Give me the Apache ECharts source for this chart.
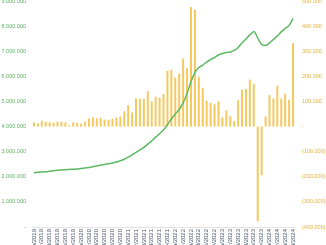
<!DOCTYPE html>
<html><head><meta charset="utf-8">
<script src="https://cdn.jsdelivr.net/npm/echarts@6/dist/echarts.min.js"></script>
<style>html,body{margin:0;padding:0;background:#fff}#c{width:326px;height:245px}</style>
</head><body><div id="c"></div>
<script>
const months = ['jan','fev','mar','abr','mai','jun','jul','ago','set','out','nov','dez'];
const startYear = 2019;
const nPoints = 67;
const categories = [];
for (let i = 0; i < nPoints; i++) categories.push(months[i % 12] + '/' + (startYear + Math.floor(i / 12)));

// Monthly change (bars, right axis)
const barValues = [16000,13000,23000,19000,17000,15000,20000,19000,17000,5000,17000,15000,
  11000,20000,32000,37000,33000,35000,27000,27000,31000,36000,40000,61000,
  85000,56000,113000,111000,111000,141000,100000,119000,115000,130000,222000,227000,
  195000,211000,271000,232000,476000,466000,198000,154000,103000,94000,88000,100000,
  36000,64000,41000,23000,105000,146000,150000,187000,171000,-377000,-194000,40000,
  125000,112000,163000,112000,131000,107000,332000];

// Cumulative total (line, left axis)
const lineValues = [2160000,2180000,2190000,2200000,2220000,2240000,2260000,2270000,2280000,2290000,2300000,2310000,
  2330000,2350000,2370000,2400000,2430000,2460000,2490000,2520000,2550000,2590000,2640000,2700000,
  2780000,2870000,2970000,3070000,3170000,3300000,3430000,3580000,3720000,3860000,4080000,4300000,
  4500000,4680000,4940000,5320000,5780000,6160000,6350000,6450000,6570000,6670000,6750000,6850000,
  6910000,6950000,6970000,7030000,7150000,7330000,7490000,7650000,7790000,7530000,7270000,7230000,
  7330000,7470000,7610000,7770000,7910000,8030000,8310000];

const leftTicks = {min: 0, max: 9000000, interval: 1000000};
const rightTicks = {min: -400000, max: 500000, interval: 100000};

function fmt(v) {
  if (v === 0) return '-';
  const s = Math.abs(v).toString().replace(/\B(?=(\d{3})+(?!\d))/g, '.');
  return v < 0 ? '(' + s + ')' : s;
}

const chart = echarts.init(document.getElementById('c'), null, {renderer: 'canvas'});
chart.setOption({
  animation: false,
  grid: {left: 32, right: 31, top: 1, bottom: 18, containLabel: false, outerBoundsMode: 'none'},
  xAxis: {
    type: 'category', data: categories,
    axisLine: {onZero: false, lineStyle: {color: '#e3e3e3', width: 1}},
    axisTick: {show: false},
    axisLabel: {rotate: 90, interval: 1, fontSize: 6, color: '#44546A', margin: 2, fontFamily: 'Liberation Sans'}
  },
  yAxis: [
    {type: 'value', position: 'left', min: leftTicks.min, max: leftTicks.max, interval: leftTicks.interval,
     splitLine: {show: false}, axisLine: {show: false}, axisTick: {show: false},
     axisLabel: {formatter: fmt, fontSize: 5.5, color: '#5CB460', margin: 6, fontFamily: 'Liberation Sans'}},
    {type: 'value', position: 'right', min: rightTicks.min, max: rightTicks.max, interval: rightTicks.interval,
     splitLine: {show: false}, axisLine: {show: false}, axisTick: {show: false},
     axisLabel: {formatter: fmt, fontSize: 5.5, color: '#E8B13C', margin: 7, fontFamily: 'Liberation Sans'}}
  ],
  series: [
    {type: 'bar', yAxisIndex: 1, data: barValues, barWidth: 2, itemStyle: {color: '#F7C860'}},
    {type: 'line', yAxisIndex: 0, data: lineValues, showSymbol: false, smooth: 0.3,
     lineStyle: {color: '#5DB963', width: 1.5}, z: 3}
  ]
});
</script></body></html>
